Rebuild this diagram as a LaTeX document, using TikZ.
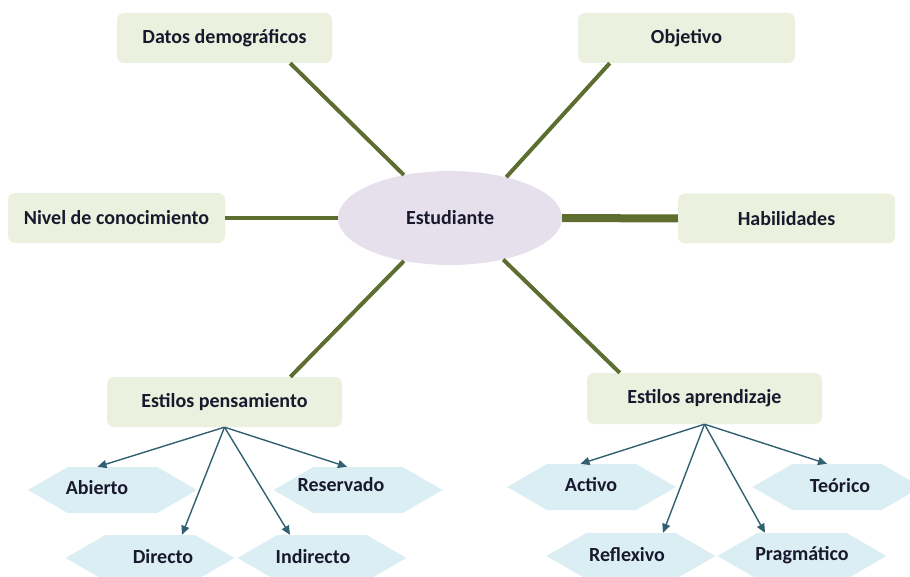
\documentclass[tikz,border=0pt]{standalone}
\usepackage{fontspec}
\setmainfont{Carlito}
\usetikzlibrary{shapes.geometric,shapes.symbols,arrows.meta,calc}
\definecolor{boxg}{RGB}{235,241,222}
\definecolor{ellc}{RGB}{229,224,236}
\definecolor{hexc}{RGB}{219,238,244}
\definecolor{olivec}{RGB}{94,110,48}
\definecolor{arrowc}{RGB}{49,96,112}
\definecolor{txtc}{RGB}{25,25,45}
\begin{document}
\begin{tikzpicture}[x=1pt,y=-1pt,
  font=\bfseries\fontsize{20}{23}\selectfont, text=txtc,
  rbox/.style={rectangle, rounded corners=7pt, fill=boxg, minimum width=215pt, minimum height=50pt, inner sep=0pt},
  hexa/.style={signal, signal to=west and east, signal pointer angle=60, fill=hexc, minimum width=169pt, minimum height=46pt, inner sep=0pt},
  conn/.style={draw=olivec, line width=4pt},
  arr/.style={draw=arrowc, line width=1.4pt, -{Triangle[length=9pt,width=8pt]}},
  lbl/.style={inner sep=0pt}]
\clip (0,0) rectangle (910,577);
\useasboundingbox (0,0) rectangle (910,577);

% boxes
\node[rbox] (datos) at (224.5,38) {Datos demográficos};
\node[rbox, minimum width=217pt] (obj) at (686.5,38) {Objetivo};
\node[rbox, minimum width=217pt] (nivel) at (116.5,218) {Nivel de conocimiento};
\node[rbox, minimum width=217pt] (hab) at (786.5,218.5) {Habilidades};
\node[rbox, minimum width=235pt] (pens) at (224.5,402) {Estilos pensamiento};
\node[rbox, minimum width=235pt, minimum height=51pt] (apr) at (704.5,398.5) {Estilos aprendizaje};
\node[ellipse, fill=ellc, minimum width=224pt, minimum height=94pt, inner sep=0pt] (e) at (450,218) {Estudiante};

% connectors
\draw[conn] (e.137.5) -- ($(datos.south west)!0.805!(datos.south east)$);
\draw[conn] (e.36) -- ($(obj.south west)!0.147!(obj.south east)$);
\draw[conn] (e.west) -- (nivel.east);
\draw[conn, line width=8pt] (e.east) -- (hab.west);
\draw[conn] (e.223) -- ($(pens.north west)!0.78!(pens.north east)$);
\draw[conn] (e.322) -- ($(apr.north west)!0.14!(apr.north east)$);

% hexagons
\node[hexa] (habierto) at (112.5,490) {};
\node[hexa] (hreserv) at (358,490) {};
\node[hexa] (hdirecto) at (150,558) {};
\node[hexa] (hindir) at (322,558) {};
\node[hexa] (hactivo) at (591.5,487) {};
\node[hexa] (hteor) at (837,487) {};
\node[hexa] (hrefl) at (631,556) {};
\node[hexa] (hprag) at (802,556) {};

\node[lbl] (tabierto) at (97,488) {Abierto};
\node[lbl] (treserv) at (341,485) {Reservado};
\node[lbl] (tdirecto) at (163,557) {Directo};
\node[lbl] (tindir) at (313,557) {Indirecto};
\node[lbl] (tactivo) at (591,485) {Activo};
\node[lbl] (tteor) at (840,486) {Teórico};
\node[lbl] (trefl) at (627,555) {Reflexivo};
\node[lbl] (tprag) at (802,555) {Pragmático};

% arrows
\draw[arr] (pens.south) -- ($(habierto.north)+(-15,0)$);
\draw[arr] (pens.south) -- ($(hdirecto.north)+(32,0)$);
\draw[arr] (pens.south) -- ($(hindir.north)+(-32,0)$);
\draw[arr] (pens.south) -- ($(hreserv.north)+(-11,0)$);
\draw[arr] (apr.south) -- ($(hactivo.north)+(-11,0)$);
\draw[arr] (apr.south) -- ($(hrefl.north)+(32,0)$);
\draw[arr] (apr.south) -- ($(hprag.north)+(-37,0)$);
\draw[arr] (apr.south) -- ($(hteor.north)+(-10,0)$);
\end{tikzpicture}
\end{document}
